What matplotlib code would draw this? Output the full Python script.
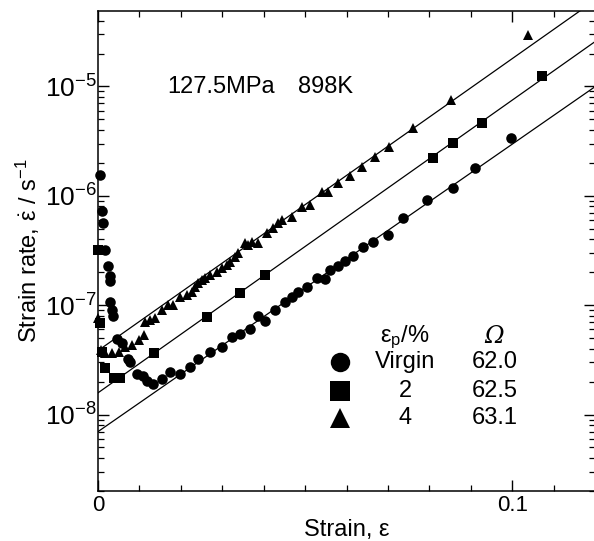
"""Creep strain rate vs strain for virgin and pre-strained specimens (127.5 MPa, 898 K)."""

from __future__ import annotations

import matplotlib

matplotlib.use("Agg")
import matplotlib.pyplot as plt  # noqa: E402
from matplotlib.ticker import FixedLocator, LogFormatterSciNotation, NullFormatter  # noqa: E402

# --- data ---------------------------------------------------------------------
virgin_strain = [
    0.0005, 0.0010, 0.0012, 0.0017, 0.0024, 0.0029, 0.0029, 0.0029, 0.0034, 0.0036,
    0.0046, 0.0058, 0.0073, 0.0077, 0.0094, 0.0109, 0.0118, 0.0133, 0.0155, 0.0174,
    0.0198, 0.0222, 0.0242, 0.0271, 0.0300, 0.0324, 0.0343, 0.0367, 0.0387, 0.0404,
    0.0428, 0.0452, 0.0469, 0.0483, 0.0505, 0.0529, 0.0549, 0.0561, 0.0580, 0.0597,
    0.0616, 0.0641, 0.0665, 0.0699, 0.0737, 0.0795, 0.0856, 0.0911, 0.0996,
]
virgin_rate = [
    1.56e-6, 7.2e-7, 5.7e-7, 3.2e-7, 2.26e-7, 1.83e-7, 1.65e-7, 1.08e-7, 9.1e-8, 7.9e-8,
    4.9e-8, 4.5e-8, 3.2e-8, 3.0e-8, 2.33e-8, 2.23e-8, 2.01e-8, 1.89e-8, 2.10e-8, 2.43e-8,
    2.33e-8, 2.75e-8, 3.19e-8, 3.77e-8, 4.19e-8, 5.07e-8, 5.4e-8, 6.0e-8, 7.9e-8, 7.1e-8,
    9.1e-8, 1.06e-7, 1.20e-7, 1.33e-7, 1.48e-7, 1.79e-7, 1.72e-7, 2.12e-7, 2.26e-7, 2.51e-7,
    2.79e-7, 3.37e-7, 3.82e-7, 4.43e-7, 6.3e-7, 9.2e-7, 1.19e-6, 1.81e-6, 3.40e-6,
]

pre2_strain = [
    0.0, 0.0005, 0.0010, 0.0017, 0.0039, 0.0053, 0.0135, 0.0263, 0.0343, 0.0404,
    0.0810, 0.0856, 0.0926, 0.1073,
]
pre2_rate = [
    3.21e-7, 6.9e-8, 3.76e-8, 2.69e-8, 2.17e-8, 2.17e-8, 3.68e-8, 7.85e-8, 1.30e-7, 1.90e-7,
    2.23e-6, 3.06e-6, 4.65e-6, 1.25e-5,
]

pre4_strain = [
    0.0, 0.0007, 0.0017, 0.0034, 0.0051, 0.0065, 0.0082, 0.0099, 0.0111, 0.0114,
    0.0126, 0.0138, 0.0155, 0.0169, 0.0181, 0.0198, 0.0215, 0.0227, 0.0234, 0.0242,
    0.0251, 0.0259, 0.0271, 0.0288, 0.0300, 0.0312, 0.0319, 0.0331, 0.0338, 0.0355,
    0.0363, 0.0372, 0.0387, 0.0409, 0.0423, 0.0435, 0.0445, 0.0469, 0.0493, 0.0512,
    0.0541, 0.0556, 0.0580, 0.0609, 0.0638, 0.0670, 0.0703, 0.0761, 0.0853, 0.1039,
]
pre4_rate = [
    7.7e-8, 3.9e-8, 3.68e-8, 3.68e-8, 3.76e-8, 4.18e-8, 4.36e-8, 4.84e-8, 5.38e-8, 7.07e-8,
    7.37e-8, 7.69e-8, 9.1e-8, 1.01e-7, 1.01e-7, 1.20e-7, 1.25e-7, 1.33e-7, 1.47e-7, 1.61e-7,
    1.71e-7, 1.78e-7, 1.90e-7, 2.02e-7, 2.20e-7, 2.34e-7, 2.50e-7, 2.77e-7, 3.02e-7, 3.73e-7,
    3.57e-7, 3.80e-7, 3.73e-7, 4.60e-7, 5.11e-7, 5.67e-7, 6.05e-7, 6.45e-7, 7.95e-7, 8.29e-7,
    1.09e-6, 1.09e-6, 1.32e-6, 1.53e-6, 1.85e-6, 2.28e-6, 2.81e-6, 4.19e-6, 7.55e-6, 2.96e-5,
]

# fitted straight lines (log-linear), end points at strain 0 and 0.12
fit_strain = [0.0, 0.12]
fit_rate_virgin = [6.98e-9, 9.95e-6]
fit_rate_pre2 = [1.58e-8, 2.57e-5]
fit_rate_pre4 = [3.84e-8, 6.14e-5]

legend_labels = ["Virgin", "2", "4"]
omega_values = ["62.0", "62.5", "63.1"]
markers = ["o", "s", "^"]

FONT = ["Liberation Sans", "DejaVu Sans"]


def _setup_style() -> None:
    plt.rcParams.update(
        {
            "font.family": FONT,
            "mathtext.fontset": "custom",
            "mathtext.rm": "Liberation Sans",
            "mathtext.it": "Liberation Sans:italic",
            "mathtext.fallback": "stixsans",
            "font.size": 17,
            "axes.linewidth": 1.1,
            "xtick.direction": "in",
            "ytick.direction": "in",
            "xtick.top": True,
            "ytick.right": True,
        }
    )


def main() -> int:
    _setup_style()
    fig = plt.figure(figsize=(5.94, 5.41), dpi=100)
    ax = fig.add_axes([98 / 594, 50 / 541, 497 / 594, 480 / 541])

    series = [
        (virgin_strain, virgin_rate, fit_rate_virgin),
        (pre2_strain, pre2_rate, fit_rate_pre2),
        (pre4_strain, pre4_rate, fit_rate_pre4),
    ]
    sizes = [7.6, 6.9, 7.8]
    for (strain, rate, fit), marker, ms in zip(series, markers, sizes):
        ax.plot(fit_strain, fit, color="black", linewidth=0.9, zorder=2)
        ax.plot(strain, rate, linestyle="none", marker=marker, markersize=ms,
                color="black", markeredgewidth=0, zorder=3, clip_on=False)

    ax.set_yscale("log")
    ax.set_xlim(0, 0.12)
    ax.set_ylim(2.0e-9, 4.9e-5)

    ax.xaxis.set_major_locator(FixedLocator([0.0, 0.1]))
    ax.xaxis.set_minor_locator(FixedLocator([i * 0.01 for i in range(13)]))
    ax.set_xticklabels(["0", "0.1"])
    ax.yaxis.set_major_formatter(LogFormatterSciNotation())
    ax.yaxis.set_minor_formatter(NullFormatter())
    ax.tick_params(which="major", length=8, width=1.0, pad=3)
    ax.tick_params(axis="x", which="major", labelsize=16)
    ax.tick_params(axis="y", which="major", labelsize=19, pad=1)
    ax.tick_params(which="minor", length=4.5, width=0.9)

    ax.set_xlabel("Strain, ε", fontsize=17, labelpad=2)
    ax.set_ylabel(r"Strain rate, $\dot{\mathrm{ε}}$ / s$^{-1}$", fontsize=17, labelpad=2)

    ax.text(0.139, 0.842, "127.5MPa", transform=ax.transAxes, fontsize=17,
            ha="left", va="center")
    ax.text(0.402, 0.842, "898K", transform=ax.transAxes, fontsize=17,
            ha="left", va="center")

    # hand-built legend table
    ax.text(0.618, 0.321, r"ε$_{\mathrm{p}}$/%", transform=ax.transAxes, fontsize=17,
            ha="center", va="center")
    ax.text(0.797, 0.321, "Ω", transform=ax.transAxes, fontsize=17, style="italic",
            family=["DejaVu Serif"], ha="center", va="center")
    rows_y = [0.269, 0.209, 0.152]
    for label, omega, marker, y in zip(legend_labels, omega_values, markers, rows_y):
        ax.plot([0.487], [y], marker=marker, markersize=14, color="black",
                markeredgewidth=0, transform=ax.transAxes, clip_on=False)
        ax.text(0.618, y, label, transform=ax.transAxes, fontsize=17,
                ha="center", va="center")
        ax.text(0.799, y, omega, transform=ax.transAxes, fontsize=17,
                ha="center", va="center")

    fig.savefig("out.png", dpi=100)
    plt.close(fig)
    return 0


if __name__ == "__main__":
    raise SystemExit(main())
